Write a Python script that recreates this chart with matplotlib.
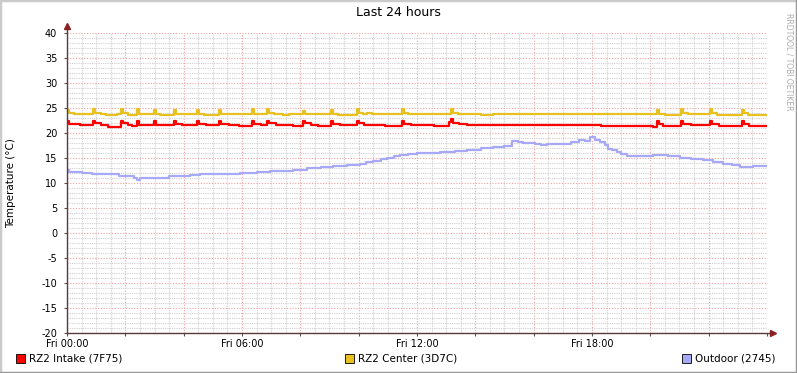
import matplotlib
matplotlib.use("Agg")
import matplotlib.pyplot as plt
from matplotlib.ticker import MultipleLocator, FuncFormatter
from matplotlib.patches import Rectangle
from matplotlib.lines import Line2D

# ---------------- data (hours since Fri 00:00, degrees C) ----------------
red_t = [0.00, 0.08, 0.45, 0.89, 0.96, 1.15, 1.40, 1.85, 1.92, 2.10, 2.22, 2.40, 2.47,
         2.98, 3.05, 3.67, 3.74, 3.95, 4.46, 4.53, 4.75, 5.21, 5.28, 5.55, 5.90, 6.34,
         6.41, 6.65, 6.86, 6.93, 7.15, 7.50, 7.75, 8.09, 8.16, 8.35, 8.60, 9.05, 9.12,
         9.35, 9.94, 10.01, 10.20, 10.50, 10.90, 11.49, 11.56, 11.80, 12.60, 12.85,
         13.10, 13.16, 13.23, 13.45, 13.70, 15.20, 15.40, 15.55, 15.65, 16.00, 16.70,
         18.30, 20.10, 20.23, 20.30, 20.45, 21.05, 21.12, 21.40, 22.04, 22.11, 22.35,
         23.14, 23.21, 23.40, 23.96]
red_v = [22.4, 21.9, 21.6, 22.5, 22.0, 21.7, 21.3, 22.5, 22.0, 21.7, 21.4, 22.4, 21.6,
         22.4, 21.6, 22.4, 21.9, 21.6, 22.4, 21.9, 21.6, 22.4, 21.9, 21.6, 21.4, 22.4,
         21.9, 21.6, 22.4, 22.0, 21.7, 21.6, 21.4, 22.4, 22.0, 21.7, 21.5, 22.4, 21.9,
         21.6, 22.4, 22.0, 21.7, 21.6, 21.4, 22.4, 21.9, 21.6, 21.5, 21.4,
         22.3, 22.8, 22.1, 21.9, 21.6, 21.7, 21.6, 21.7, 21.6, 21.7, 21.6,
         21.5, 21.3, 22.4, 21.9, 21.5, 22.5, 21.9, 21.6, 22.4, 21.9, 21.5,
         22.4, 21.9, 21.5, 21.5]

yel_t = [0.00, 0.07, 0.25, 0.89, 0.96, 1.15, 1.35, 1.70, 1.85, 1.92, 2.10, 2.40, 2.47,
         2.98, 3.05, 3.20, 3.67, 3.74, 4.46, 4.53, 4.70, 5.21, 5.28, 6.34, 6.41, 6.86,
         6.93, 7.10, 7.40, 7.60, 8.09, 8.16, 9.05, 9.12, 9.30, 9.94, 10.01, 10.15, 10.30,
         10.45, 11.49, 11.56, 11.70, 13.16, 13.23, 13.40, 14.20, 14.60, 20.23, 20.30,
         20.50, 21.05, 21.12, 21.30, 22.04, 22.11, 22.30, 23.14, 23.21, 23.35, 23.96]
yel_v = [24.7, 24.1, 23.8, 24.8, 24.1, 23.8, 23.6, 23.8, 24.8, 24.0, 23.7, 24.8, 23.8,
         24.7, 23.9, 23.7, 24.6, 23.8, 24.7, 23.9, 23.7, 24.6, 23.8, 24.9, 23.8, 24.8,
         24.0, 23.8, 23.6, 23.8, 24.5, 23.8, 24.6, 23.9, 23.7, 24.9, 24.1, 23.8, 24.0,
         23.8, 24.9, 24.1, 23.8, 24.9, 24.0, 23.8, 23.7, 23.8, 24.7, 23.9,
         23.7, 24.8, 24.0, 23.8, 24.8, 24.0, 23.7, 24.7, 24.0, 23.7, 23.7]

out_t = [0.00, 0.07, 0.51, 0.86, 1.50, 1.78, 2.30, 2.40, 2.50, 2.91, 3.50, 4.20, 4.56,
         5.50, 5.93, 6.50, 6.96, 7.40, 7.75, 8.23, 8.70, 9.12, 9.60, 10.04, 10.25,
         10.49, 10.75, 10.97, 11.20, 11.42, 11.70, 12.00, 12.79, 13.30, 13.71, 14.20,
         14.60, 15.00, 15.26, 15.45, 15.63, 16.04, 16.25, 16.45, 17.28, 17.55, 17.76,
         17.93, 18.10, 18.27, 18.44, 18.55, 18.70, 18.86, 19.00, 19.20, 20.09, 20.60,
         21.01, 21.40, 21.80, 22.15, 22.49, 22.80, 23.07, 23.52, 23.96]
out_v = [12.6, 12.3, 12.1, 11.9, 11.8, 11.5, 11.1, 10.6, 11.0, 11.1, 11.4, 11.6, 11.8,
         11.9, 12.1, 12.2, 12.4, 12.5, 12.7, 13.1, 13.2, 13.4, 13.6, 13.9, 14.2,
         14.5, 14.8, 15.1, 15.4, 15.7, 15.9, 16.1, 16.3, 16.5, 16.7, 17.0,
         17.3, 17.5, 18.5, 18.3, 18.1, 17.9, 17.6, 17.8, 18.2, 18.6, 18.4,
         19.2, 18.7, 18.2, 17.6, 16.9, 16.6, 16.3, 15.9, 15.5, 15.7, 15.4,
         15.1, 14.9, 14.6, 14.2, 13.9, 13.6, 13.3, 13.5, 13.5]

series_names = ["RZ2 Intake (7F75)", "RZ2 Center (3D7C)", "Outdoor (2745)"]
series_colors = ["#FF0000", "#E8C020", "#A8A8F8"]
x_tick_labels = ["Fri 00:00", "Fri 06:00", "Fri 12:00", "Fri 18:00"]

# ---------------- figure ----------------
W, H = 797, 373
fig = plt.figure(figsize=(W / 100, H / 100), dpi=100)
fig.patch.set_facecolor("white")

def fx(px):
    return px / W

def fy(py):
    return 1 - py / H

ax = fig.add_axes([fx(67), fy(333), 700 / W, 300 / H])
ax.set_facecolor("white")
ax.set_xlim(0, 24)
ax.set_ylim(-20, 40)

for s in ax.spines.values():
    s.set_visible(False)

ax.xaxis.set_major_locator(MultipleLocator(2))
ax.xaxis.set_minor_locator(MultipleLocator(0.5))
ax.yaxis.set_major_locator(MultipleLocator(5))
ax.yaxis.set_minor_locator(MultipleLocator(1))

def xfmt(v, pos):
    h = int(round(v))
    if h % 6 == 0 and h < 24:
        return x_tick_labels[h // 6]
    return ""

ax.xaxis.set_major_formatter(FuncFormatter(xfmt))
ax.yaxis.set_major_formatter(FuncFormatter(lambda v, p: f"{int(v)}"))

ax.grid(which="minor", color="#D0D0D0", linestyle=(0, (1, 1)), linewidth=0.8, zorder=0)
ax.grid(which="major", color="#F0A0A0", linestyle=(0, (1, 1.5)), linewidth=0.8, zorder=0)

ax.tick_params(axis="both", which="major", labelsize=7, length=2, width=0.8,
               color="#555555", labelcolor="black")
ax.tick_params(axis="both", which="minor", length=0)
ax.tick_params(axis="y", pad=5)
ax.tick_params(axis="x", pad=2)

ax.step(red_t, red_v, where="post", color=series_colors[0], lw=1.6, zorder=4)
ax.step(yel_t, yel_v, where="post", color=series_colors[1], lw=1.6, zorder=3)
ax.step(out_t, out_v, where="post", color=series_colors[2], lw=1.6, zorder=2)

# axes with arrows
axis_col = "#5A3A3A"
arrow_col = "#8B2020"
ax.plot([0, 0], [0, 1 + 7 / 300], transform=ax.transAxes, color=axis_col, lw=1,
        clip_on=False, zorder=5)
ax.plot([0], [1 + 7 / 300], transform=ax.transAxes, marker="^", ms=4, color=arrow_col,
        clip_on=False, zorder=6)
ax.plot([0, 1 + 6 / 700], [0, 0], transform=ax.transAxes, color=axis_col, lw=1,
        clip_on=False, zorder=5)
ax.plot([1 + 6 / 700], [0], transform=ax.transAxes, marker=">", ms=4, color=arrow_col,
        clip_on=False, zorder=6)

# title, y label, watermark
fig.text(fx(398), fy(13), "Last 24 hours", ha="center", va="center", fontsize=9)
fig.text(fx(11), fy(183), "Temperature (°C)", rotation=90, ha="center", va="center",
         fontsize=7.5)
fig.text(fx(789), fy(62), "RRDTOOL / TOBI OETIKER", rotation=270, ha="center",
         va="center", fontsize=5.5, color="#AAAAAA")

# legend
leg_x = [16, 345, 682]
for xp, name, col in zip(leg_x, series_names, series_colors):
    fig.add_artist(Rectangle((fx(xp), fy(363)), 9 / W, 9 / H, facecolor=col,
                             edgecolor="black", linewidth=0.6,
                             transform=fig.transFigure))
    fig.text(fx(xp + 13), fy(358.5), name, ha="left", va="center", fontsize=7.5)

# frame shading
fig.add_artist(Line2D([0, 0], [0, 1], color="#CBCBCB", lw=2.5, transform=fig.transFigure))
fig.add_artist(Line2D([0, 1], [1, 1], color="#CBCBCB", lw=2.5, transform=fig.transFigure))
fig.add_artist(Line2D([1, 1], [0, 1], color="#999999", lw=2.5, transform=fig.transFigure))
fig.add_artist(Line2D([0, 1], [0, 0], color="#999999", lw=2.5, transform=fig.transFigure))

fig.savefig("out.png", dpi=100, facecolor=fig.get_facecolor())
